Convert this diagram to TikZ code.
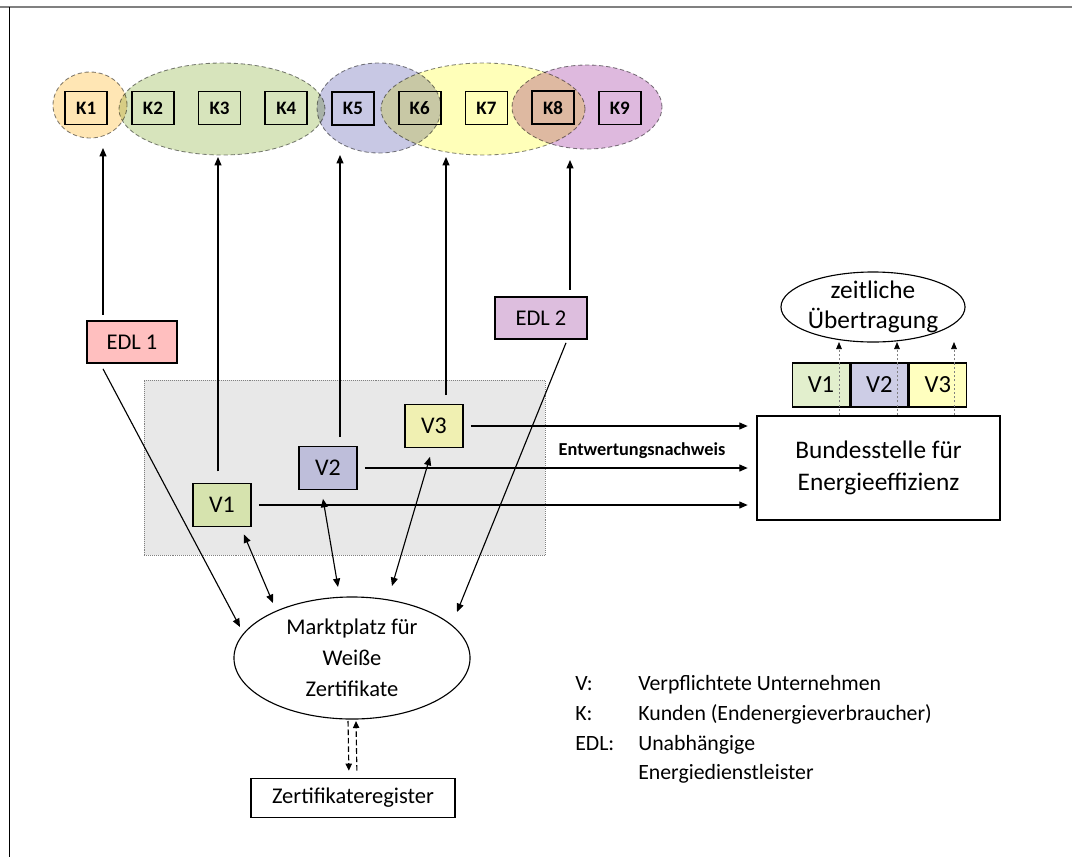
\documentclass[tikz,border=0pt]{standalone}
\usepackage{fontspec}
\setmainfont{Carlito}
\usepackage{xcolor}
\usetikzlibrary{arrows.meta, positioning, matrix, shapes.geometric}
\definecolor{korange}{RGB}{255,230,180}
\definecolor{kgruen}{RGB}{215,228,188}
\definecolor{kblau}{RGB}{200,200,228}
\definecolor{kgelb}{RGB}{255,255,185}
\definecolor{klila}{RGB}{222,185,222}
\definecolor{vgruen}{RGB}{214,227,174}
\definecolor{vblau}{RGB}{190,190,218}
\definecolor{vgelb}{RGB}{240,240,178}
\definecolor{ugruen}{RGB}{226,239,205}
\definecolor{ublau}{RGB}{205,205,230}
\definecolor{ugelb}{RGB}{255,255,191}
\definecolor{edlrot}{RGB}{255,191,191}
\definecolor{edllila}{RGB}{221,190,222}
\tikzset{%
	kbox/.style={
		draw,
		line width=1.2pt,
		minimum width=1.05cm,
		minimum height=0.825cm,
		inner sep=0pt,
		font=\fontsize{13.5pt}{16pt}\selectfont\bfseries
	},
	vbox/.style={
		draw,
		line width=1.2pt,
		minimum width=1.45cm,
		minimum height=1.075cm,
		inner sep=0pt,
		font=\fontsize{17pt}{20pt}\selectfont
	},
	ubox/.style={
		draw,
		line width=1pt,
		minimum width=1.425cm,
		minimum height=1.1cm,
		inner sep=0pt,
		font=\fontsize{17.5pt}{20pt}\selectfont
	},
	edlbox/.style={
		draw,
		line width=1.2pt,
		minimum width=2.25cm,
		minimum height=1.05cm,
		inner sep=0pt,
		font=\fontsize{16pt}{19pt}\selectfont
	},
	gruppe/.style={
		ellipse,
		draw=gray,
		densely dashed,
		line width=0.6pt,
		inner sep=0pt
	},
	pfeil/.style={-{Triangle[length=6pt,width=5pt]}, line width=0.8pt},
	doppelpfeil/.style={{Triangle[length=6pt,width=5pt]}-{Triangle[length=6pt,width=5pt]}, line width=0.8pt},
	punktpfeil/.style={-{Triangle[length=5pt,width=4pt,color=black]}, draw=gray, dash pattern=on 1.5pt off 1.5pt, line width=0.5pt},
	strichpfeil/.style={-{Triangle[length=5pt,width=4.5pt]}, dash pattern=on 4pt off 2pt, line width=0.8pt},
}

\begin{document}
\begin{tikzpicture}[x=0.025cm, y=-0.025cm]
			\useasboundingbox (0,0) rectangle (1072,857);
			% Rahmen
			\draw[gray, line width=1.4pt] (0,7) -- (1072,7);
			\draw[line width=1pt] (9.5,7) -- (9.5,857);
			
			% Kundengruppen (Ellipsen hinter den Kunden)
			\begin{scope}[blend mode=multiply]
				\node[gruppe, fill=korange, minimum width=1.85cm, minimum height=1.65cm] (kreisEDL1) at (90,105) {};
				\node[gruppe, fill=kgruen, minimum width=5.15cm, minimum height=2.3cm] (kreisV1) at (222,109) {};
				\node[gruppe, fill=kblau, minimum width=3.1cm, minimum height=2.25cm] (kreisV2) at (379,108) {};
				\node[gruppe, fill=kgelb, minimum width=5.1cm, minimum height=2.3cm] (kreisV3) at (483,109) {};
				\node[gruppe, fill=klila, minimum width=3.75cm, minimum height=2.1cm] (kreisEDL2) at (587,107) {};
			\end{scope}
			
			% Kunden K1 bis K9
			\matrix[matrix of nodes, nodes={kbox}, column sep=0.575cm] (kunden) at (353,108) {
				K1 & K2 & K3 & K4 & K5 & K6 & K7 & K8 & K9 \\
			};
			
			% Bereich der verpflichteten Unternehmen
			\node[draw=gray, densely dotted, fill=gray!18, minimum width=10.025cm, minimum height=4.375cm] (vbereich) at (344.5,467.5) {};
			\node[vbox, fill=vgruen] (v1) at (222,505) {V1};
			\node[vbox, fill=vblau] (v2) at (328,468) {V2};
			\node[vbox, fill=vgelb] (v3) at (434,426) {V3};
			
			% Energiedienstleister
			\node[edlbox, fill=edlrot] (edl1) at (132,342) {EDL 1};
			\node[edlbox, fill=edllila, minimum width=2.3cm] (edl2) at (541,318) {EDL 2};
			
			% Bundesstelle mit zeitlicher Uebertragung
			\node[draw, line width=1.2pt, minimum width=6.075cm, minimum height=2.6cm, align=center, font=\fontsize{18pt}{22.8pt}\selectfont] (bund) at (878.5,468) {Bundesstelle für\\Energieeffizienz};
			\node[ubox, fill=ugruen] (u1) at (821,385) {V1};
			\node[ubox, fill=ublau, right=0cm of u1] (u2) {V2};
			\node[ubox, fill=ugelb, right=0cm of u2] (u3) {V3};
			\node[draw, ellipse, line width=0.8pt, minimum width=4.6cm, minimum height=1.75cm] (zeit) at (873,307) {};
			\node[align=center, font=\fontsize{18pt}{21.5pt}\selectfont] (zeittext) at (zeit) {zeitliche\\Übertragung};
			\foreach \x [count=\i] in {839,897,954} {
				\coordinate (zt\i) at (\x,342);
				\draw[punktpfeil] (bund.north -| zt\i) -- (zt\i);
			}
			
			% Marktplatz und Register
			\node[draw, ellipse, line width=0.8pt, minimum width=5.9cm, minimum height=3.05cm, inner sep=0pt, align=center, font=\fontsize{16pt}{22pt}\selectfont] (markt) at (352,658) {Marktplatz für\\Weiße\\Zertifikate};
			\node[draw, line width=1.2pt, minimum width=5.1cm, minimum height=0.975cm, font=\fontsize{16pt}{19pt}\selectfont] (zert) at (353,798) {Zertifikateregister};
			\draw[strichpfeil, shorten <=1pt, shorten >=5pt] ([xshift=-0.1cm]markt.south) -- ([xshift=-0.1cm]zert.north);
			\draw[strichpfeil, shorten <=5pt, shorten >=1pt] ([xshift=0.1cm]zert.north) -- ([xshift=0.1cm]markt.south);
			
			% Pfeile zu den Kunden
			\coordinate (tk1) at (103,148);
			\coordinate (tk2) at (218,157);
			\coordinate (tk3) at (340,155);
			\coordinate (tk4) at (446,157);
			\coordinate (tk5) at (570,160);
			\draw[pfeil, shorten <=4pt] (edl1.north -| tk1) -- (tk1);
			\draw[pfeil, shorten <=8pt] (v1.north -| tk2) -- (tk2);
			\draw[pfeil, shorten <=6pt] (v2.north -| tk3) -- (tk3);
			\draw[pfeil, shorten <=6pt] (v3.north -| tk4) -- (tk4);
			\draw[pfeil, shorten <=4.5pt] (edl2.north -| tk5) -- (tk5);
			
			% Entwertungsnachweise an die Bundesstelle
			\draw[pfeil, shorten <=5pt, shorten >=6pt] (v1.east) -- (v1.east -| bund.west);
			\draw[pfeil, shorten <=5pt, shorten >=6pt] (v2.east) -- (v2.east -| bund.west);
			\draw[pfeil, shorten <=5pt, shorten >=6pt] (v3.east) -- (v3.east -| bund.west);
			\node[font=\fontsize{13pt}{15pt}\selectfont\bfseries] (nachweis) at (642,451) {Entwertungsnachweis};
			
			% Handel ueber den Marktplatz
			\coordinate (m1) at (240,627);
			\coordinate (m2) at (273,603);
			\coordinate (m3) at (338,587);
			\coordinate (m4) at (392,586);
			\coordinate (m5) at (457,612);
			\draw[pfeil] ([shift={(-29,5)}]edl1.south) -- (m1);
			\draw[doppelpfeil] ([shift={(-8,7)}]v1.south east) -- (m2);
			\draw[doppelpfeil] ([shift={(-5,8.5)}]v2.south) -- (m3);
			\draw[doppelpfeil] ([shift={(-4,8.5)}]v3.south) -- (m4);
			\draw[pfeil] ([shift={(25,3)}]edl2.south) -- (m5);
			
			% Legende
			\node[anchor=north west, inner sep=0pt, font=\fontsize{15.5pt}{21pt}\selectfont] (legende) at (575,670) {%
				\begin{tabular}{@{}p{1.575cm}@{}l@{}}
					V: & Verpflichtete Unternehmen\\
					K: & Kunden (Endenergieverbraucher)\\
					EDL: & Unabhängige\\
					& Energiedienstleister
				\end{tabular}};
		\end{tikzpicture}
\end{document}
